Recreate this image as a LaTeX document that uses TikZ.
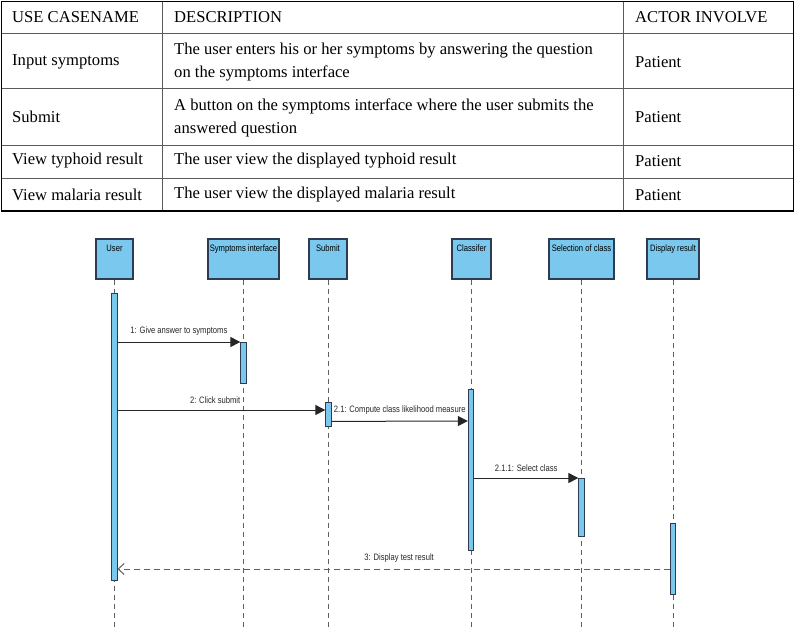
\documentclass[tikz,border=0pt]{standalone}
\usepackage{fontspec}
\setmainfont{Liberation Serif}
\newfontfamily\umlfont[FakeStretch=0.82]{Liberation Sans}
\usepackage{tikz}
\usetikzlibrary{arrows.meta, positioning}
\definecolor{umlblue}{RGB}{122,200,238}
\definecolor{umledge}{RGB}{45,60,80}
\definecolor{lifegray}{RGB}{95,95,95}
\definecolor{gridgray}{RGB}{90,90,90}

\begin{document}
\begin{tikzpicture}[
			x=1pt, y=-1pt,
			every node/.style={font=\umlfont\fontsize{9.3}{10}\selectfont},
			cell/.style={font=\fontsize{16.6}{23}\selectfont, anchor=west, align=left, inner sep=0pt},
			head/.style={draw=umledge, line width=1.1pt, fill=umlblue, minimum height=40pt, inner sep=0pt},
			headtxt/.style={anchor=north, inner sep=0pt, yshift=-6pt},
			actbar/.style={draw=umledge, line width=0.8pt, fill=umlblue, minimum width=5.5pt, anchor=north, inner sep=0pt},
			lifeline/.style={draw=lifegray, line width=0.7pt, dash pattern=on 5pt off 4pt},
			msg/.style={-{Triangle[length=10pt, width=10pt]}, line width=1pt, black!85},
			reply/.style={-{Straight Barb[length=6pt, width=11pt]}, line width=1pt, lifegray, dash pattern=on 6pt off 4pt},
			msglabel/.style={above=6pt, inner sep=0pt, text=black!85}
		]
		\useasboundingbox (0,0) rectangle (795,630);
		% use case table
		\draw[gridgray, line width=0.8pt] (1.5,33) -- (793.5,33) (1.5,88) -- (793.5,88)
			(1.5,145) -- (793.5,145) (1.5,178) -- (793.5,178)
			(162,1.5) -- (162,211) (623,1.5) -- (623,211);
		\draw[black, line width=1.3pt] (1.5,1.5) rectangle (793.5,211);
		\node[cell] (h1) at (12,17) {USE CASENAME};
		\node[cell] (h2) at (174,17) {DESCRIPTION};
		\node[cell] (h3) at (635,17) {ACTOR INVOLVE};
		\node[cell] (c11) at (12,62) {Input symptoms};
		\node[cell] (c12) at (174,62) {The user enters his or her symptoms by answering the question\\on the symptoms interface};
		\node[cell] (c13) at (635,62) {Patient};
		\node[cell] (c21) at (12,117) {Submit};
		\node[cell] (c22) at (174,118) {A button on the symptoms interface where the user submits the\\answered question};
		\node[cell] (c23) at (635,117) {Patient};
		\node[cell] (c31) at (12,161) {View typhoid result};
		\node[cell] (c32) at (174,161) {The user view the displayed typhoid result};
		\node[cell] (c33) at (635,161) {Patient};
		\node[cell] (c41) at (12,195) {View malaria result};
		\node[cell] (c42) at (174,195) {The user view the displayed malaria result};
		\node[cell] (c43) at (635,195) {Patient};

		% sequence diagram: heads
		\node[head, minimum width=37pt] (user) at (114.5,259) {};
		\node[head, minimum width=71pt] (symp) at (243.5,259) {};
		\node[head, minimum width=38pt] (subm) at (328,259) {};
		\node[head, minimum width=39pt] (clas) at (471.5,259) {};
		\node[head, minimum width=65pt] (sel) at (581.5,259) {};
		\node[head, minimum width=52pt] (disp) at (673,259) {};
		\node[headtxt] (usert) at (user.north) {User};
		\node[headtxt] (sympt) at (symp.north) {Symptoms interface};
		\node[headtxt] (submt) at (subm.north) {Submit};
		\node[headtxt] (clast) at (clas.north) {Classifer};
		\node[headtxt] (selt) at (sel.north) {Selection of class};
		\node[headtxt] (dispt) at (disp.north) {Display result};

		% lifelines
		\foreach \h in {user, symp, subm, clas, sel, disp}
			\draw[lifeline] (\h.south) -- (\h.south |- 0,630);

		% activations
		\node[actbar, minimum height=287pt] (uact) at (114.3,293) {};
		\node[actbar, minimum height=41pt] (sact) at (243.5,342) {};
		\node[actbar, minimum height=24pt] (subact) at (328.5,402) {};
		\node[actbar, minimum height=161pt] (clact) at (471,389) {};
		\node[actbar, minimum height=58pt] (selact) at (581.5,478) {};
		\node[actbar, minimum height=71pt] (dact) at (673,523) {};

		% messages
		\draw[msg] (uact.east |- sact.north) -- node[msglabel] (m1) {1: Give answer to symptoms} (sact.north west);
		\draw[msg] (uact.east |- 0,410) -- node[msglabel, pos=0.47] (m2) {2: Click submit} (subact.west |- 0,410);
		\draw[msg] ([yshift=-7pt]subact.east) -- node[msglabel] (m21) {2.1: Compute class likelihood measure} (clact.west |- 0,421);
		\draw[msg] (clact.east |- selact.north) -- node[msglabel] (m211) {2.1.1: Select class} (selact.north west);
		\draw[reply] (dact.west |- 0,569) -- node[msglabel, pos=0.49] (m3) {3: Display test result} (uact.east |- 0,569);
	\end{tikzpicture}
\end{document}
